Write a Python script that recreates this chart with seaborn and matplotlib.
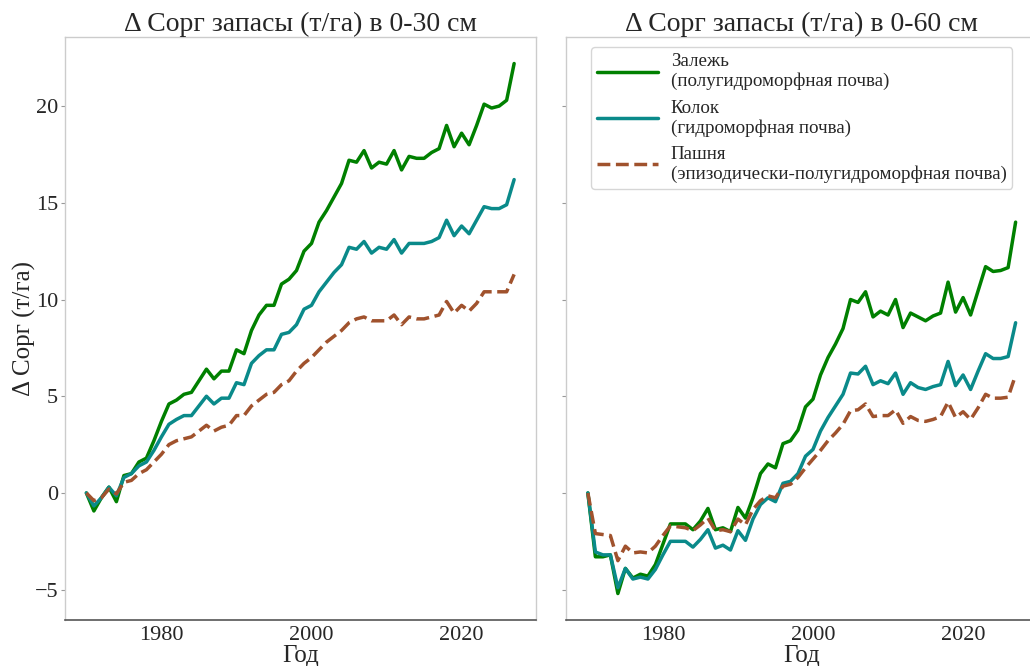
import numpy as np
import pandas as pd
import matplotlib
matplotlib.use("Agg")
import matplotlib.pyplot as plt
import seaborn as sns

years = list(range(1970, 2028))

zalezh_30 = [0.0, -0.93, -0.25, 0.3, -0.45, 0.9, 1.0, 1.6, 1.8, 2.7, 3.7, 4.6, 4.8, 5.1, 5.2, 5.8, 6.4, 5.9, 6.3, 6.3,
             7.4, 7.2, 8.4, 9.2, 9.7, 9.7, 10.8, 11.05, 11.5, 12.5, 12.9, 14.0, 14.6, 15.3, 16.0, 17.2, 17.1, 17.7, 16.8, 17.1,
             17.0, 17.7, 16.7, 17.4, 17.3, 17.3, 17.6, 17.8, 19.0, 17.9, 18.6, 18.0, 19.0, 20.1, 19.9, 20.0, 20.3, 22.2]
kolok_30 = [0.0, -0.67, -0.25, 0.3, -0.15, 0.8, 1.0, 1.4, 1.6, 2.2, 2.9, 3.55, 3.8, 4.0, 4.0, 4.5, 5.0, 4.6, 4.9, 4.9,
            5.7, 5.6, 6.7, 7.1, 7.4, 7.4, 8.2, 8.3, 8.7, 9.5, 9.7, 10.4, 10.9, 11.4, 11.8, 12.7, 12.6, 13.0, 12.4, 12.7,
            12.6, 13.1, 12.4, 12.9, 12.9, 12.9, 13.0, 13.2, 14.1, 13.3, 13.8, 13.4, 14.1, 14.8, 14.7, 14.7, 14.9, 16.2]
pashnya_30 = [0.0, -0.4, -0.25, 0.2, -0.05, 0.55, 0.65, 1.0, 1.2, 1.6, 2.0, 2.5, 2.7, 2.8, 2.9, 3.2, 3.5, 3.2, 3.4, 3.5,
              4.0, 4.0, 4.5, 4.8, 5.1, 5.2, 5.6, 5.8, 6.3, 6.7, 7.0, 7.4, 7.8, 8.1, 8.4, 8.8, 9.0, 9.1, 8.9, 8.9,
              8.9, 9.2, 8.7, 9.1, 9.0, 9.0, 9.1, 9.2, 9.9, 9.3, 9.7, 9.4, 9.8, 10.4, 10.4, 10.4, 10.4, 11.3]

zalezh_60 = [0.0, -3.3, -3.3, -3.2, -5.2, -3.9, -4.4, -4.2, -4.3, -3.7, -2.65, -1.6, -1.6, -1.6, -1.9, -1.45, -0.8, -1.9, -1.8, -2.0,
             -0.75, -1.3, -0.25, 1.0, 1.5, 1.3, 2.55, 2.7, 3.25, 4.45, 4.85, 6.1, 7.0, 7.7, 8.5, 10.0, 9.85, 10.4, 9.1, 9.4,
             9.2, 10.0, 8.55, 9.3, 9.1, 8.9, 9.15, 9.3, 10.9, 9.35, 10.1, 9.2, 10.45, 11.7, 11.45, 11.5, 11.65, 14.0]
kolok_60 = [0.0, -3.05, -3.2, -3.2, -4.9, -3.9, -4.45, -4.35, -4.45, -3.95, -3.2, -2.5, -2.5, -2.5, -2.8, -2.4, -1.9, -2.85, -2.7, -2.95,
            -1.95, -2.45, -1.35, -0.6, -0.25, -0.45, 0.5, 0.6, 1.0, 1.9, 2.25, 3.2, 3.9, 4.5, 5.1, 6.2, 6.15, 6.55, 5.6, 5.8,
            5.65, 6.2, 5.1, 5.7, 5.45, 5.35, 5.5, 5.6, 6.8, 5.55, 6.1, 5.35, 6.3, 7.2, 6.95, 6.95, 7.05, 8.8]
pashnya_60 = [0.0, -2.1, -2.15, -2.2, -3.5, -2.75, -3.1, -3.05, -3.1, -2.75, -2.2, -1.7, -1.75, -1.8, -1.95, -1.65, -1.3, -1.95, -1.9, -2.0,
              -1.35, -1.65, -0.85, -0.4, -0.15, -0.25, 0.35, 0.45, 0.8, 1.3, 1.75, 2.2, 2.7, 3.1, 3.55, 4.25, 4.3, 4.6, 3.95, 4.0,
              4.0, 4.3, 3.6, 3.95, 3.75, 3.7, 3.8, 3.95, 4.7, 3.9, 4.2, 3.8, 4.4, 5.1, 4.9, 4.9, 4.95, 6.1]

labels = ["Залежь\n(полугидроморфная почва)",
          "Колок\n(гидроморфная почва)",
          "Пашня\n(эпизодически-полугидроморфная почва)"]
titles = ["Δ Сорг запасы (т/га) в 0-30 см", "Δ Сорг запасы (т/га) в 0-60 см"]
colors = ["green", "#0a8a8a", "sienna"]
styles = ["-", "-", "--"]

sns.set_theme(style="white")
plt.rcParams["font.family"] = ["Liberation Serif", "DejaVu Serif"]
plt.rcParams["axes.unicode_minus"] = True

fig, axes = plt.subplots(1, 2, figsize=(10.3, 6.66), dpi=100, sharey=True)
fig.subplots_adjust(left=0.0631, right=1.0068, bottom=0.069, top=0.9444, wspace=0.0658)

panels = [[zalezh_30, kolok_30, pashnya_30], [zalezh_60, kolok_60, pashnya_60]]
for ax, series, title in zip(axes, panels, titles):
    for vals, lab, col, ls in zip(series, labels, colors, styles):
        df = pd.DataFrame({"Год": years, "v": vals})
        sns.lineplot(data=df, x="Год", y="v", ax=ax, color=col, linestyle=ls,
                     linewidth=2.5, label=lab, legend=False)
    ax.set_title(title, fontsize=20, pad=4)
    ax.set_xlabel("Год", fontsize=18, labelpad=0)
    ax.set_xticks([1980, 2000, 2020])
    ax.tick_params(axis="x", labelsize=16, length=0, pad=4)
    ax.tick_params(axis="y", labelsize=16, length=3, color="#999999", width=0.8, left=True, pad=2)
    for s in ["left", "top", "right"]:
        ax.spines[s].set_color("#cccccc")
        ax.spines[s].set_linewidth(1.0)
    ax.spines["bottom"].set_color("#555555")
    ax.spines["bottom"].set_linewidth(1.2)

axes[0].set_ylabel("Δ Сорг (т/га)", fontsize=18, labelpad=-1)
axes[1].set_ylabel("")
axes[0].set_yticks([-5, 0, 5, 10, 15, 20])

axes[1].legend(loc="upper center", fontsize=13.7, handlelength=3.2, frameon=True,
               borderaxespad=0.55, labelspacing=0.48, handletextpad=0.7, borderpad=0.3)

fig.savefig("out.png", dpi=100)
